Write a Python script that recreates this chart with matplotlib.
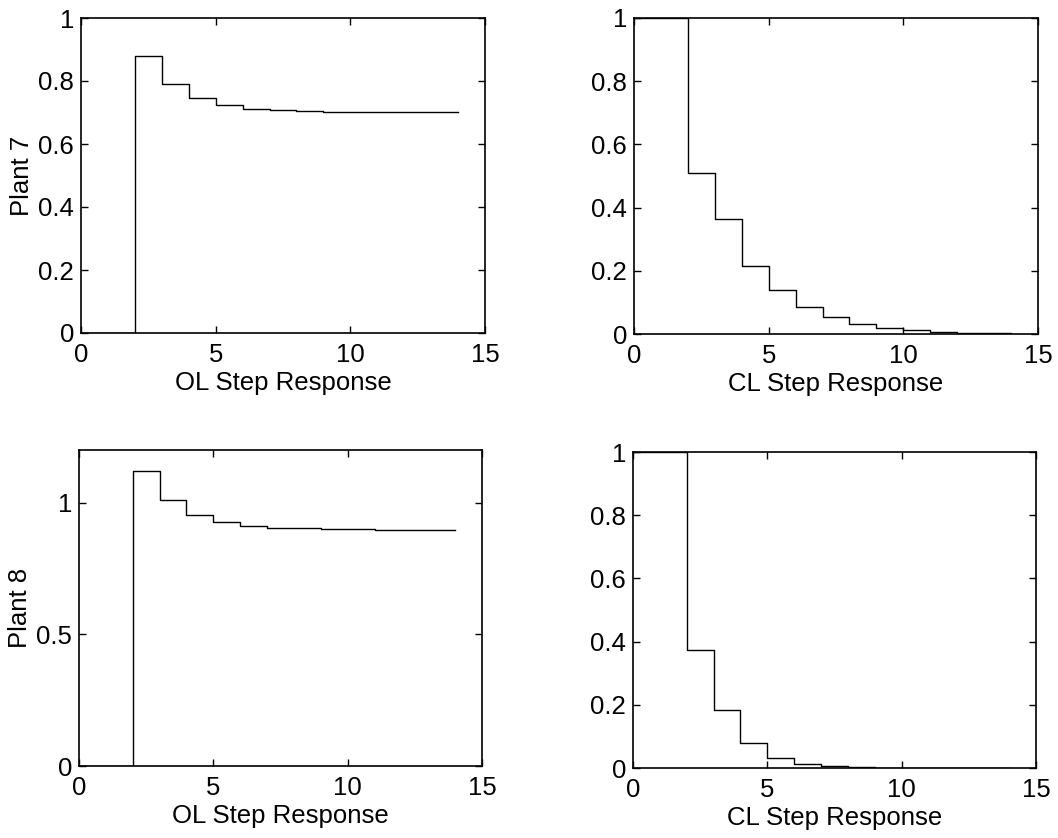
import numpy as np
import matplotlib.pyplot as plt

plt.rcParams['font.family'] = ['Liberation Sans', 'DejaVu Sans']

# sample instants
t = [0, 1, 2, 3, 4, 5, 6, 7, 8, 9, 10, 11, 12, 13, 14]

# plant 7
ol_7 = [0, 0, 0.878, 0.791, 0.745, 0.724, 0.712, 0.707, 0.704, 0.702, 0.701, 0.700, 0.700, 0.700, 0.700]
cl_7 = [1, 1, 0.509, 0.363, 0.215, 0.139, 0.086, 0.054, 0.033, 0.020, 0.012, 0.007, 0.004, 0.002, 0.001]

# plant 8
ol_8 = [0, 0, 1.122, 1.010, 0.954, 0.926, 0.911, 0.905, 0.902, 0.900, 0.899, 0.898, 0.897, 0.897, 0.897]
cl_8 = [1, 1, 0.372, 0.182, 0.078, 0.033, 0.012, 0.005, 0.002, 0.001, 0, 0, 0, 0, 0]

fig = plt.figure(figsize=(10.58, 8.38), dpi=100)
W, H = 1058, 838

# axes boxes in pixels: left, top, right, bottom
boxes = [(81, 18, 485, 333), (634, 18, 1038, 334),
         (79, 450, 482, 766), (633, 452, 1036, 768)]
series = [ol_7, cl_7, ol_8, cl_8]
xlabels = ['OL Step Response', 'CL Step Response', 'OL Step Response', 'CL Step Response']
ylims = [(0, 1), (0, 1), (0, 1.2), (0, 1)]
yticks = [[0, 0.2, 0.4, 0.6, 0.8, 1], [0, 0.2, 0.4, 0.6, 0.8, 1],
          [0, 0.5, 1], [0, 0.2, 0.4, 0.6, 0.8, 1]]
ylabels = ['Plant 7', None, 'Plant 8', None]

for (l, tp, r, b), y, xl, yl, yt, ylab in zip(boxes, series, xlabels, ylims, yticks, ylabels):
    ax = fig.add_axes([l / W, 1 - b / H, (r - l) / W, (b - tp) / H])
    ax.step(t, y, where='post', color='black', linewidth=1.0)
    ax.set_xlim(0, 15)
    ax.set_ylim(*yl)
    ax.set_xticks([0, 5, 10, 15])
    ax.set_yticks(yt)
    ax.set_yticklabels(['%g' % v for v in yt])
    ax.tick_params(direction='in', top=True, right=True, length=5, width=1,
                   labelsize=18.5)
    ax.tick_params(axis='x', pad=7)
    ax.tick_params(axis='y', pad=5)
    for s in ax.spines.values():
        s.set_linewidth(1.2)
    ax.set_xlabel(xl, fontsize=18.5, labelpad=3)
    if ylab:
        ax.set_ylabel(ylab, fontsize=18.5, labelpad=3)

fig.savefig('out.png', dpi=100)
